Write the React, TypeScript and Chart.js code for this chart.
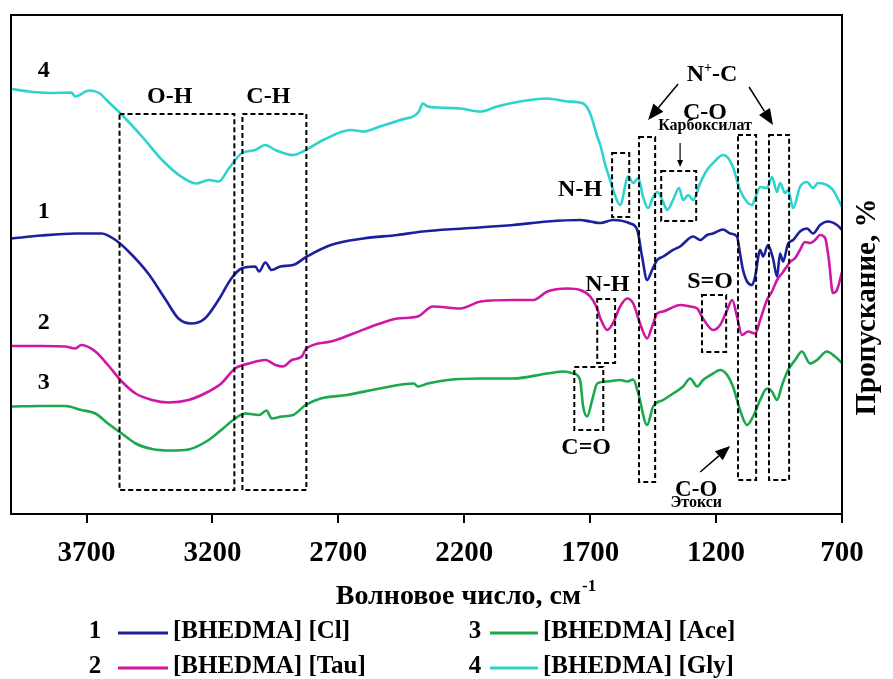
import React, { useEffect, useRef } from "react";
import { Chart, registerables } from "chart.js";

Chart.register(...registerables);

const SERIF = '"Liberation Serif", "Times New Roman", serif';
const bold = (s: number) => `bold ${s}px ${SERIF}`;

// ---- axis ticks ----
const xTicks = [3700, 3200, 2700, 2200, 1700, 1200, 700];

// ---- series 1: [BHEDMA][Cl] ----
const clWn = [3998, 3880, 3745, 3640, 3585, 3533, 3455, 3385, 3335, 3285, 3230, 3176, 3125, 3085, 3030, 3015, 2990, 2965, 2930, 2880, 2825, 2730, 2600, 2465, 2365, 2205, 2005, 1870, 1740, 1700, 1660, 1609, 1541, 1513, 1494, 1474, 1454, 1434, 1410, 1371, 1343, 1291, 1263, 1236, 1212, 1172, 1144, 1117, 1105, 1093, 1077, 1057, 1045, 1025, 1013, 994, 974, 958, 946, 934, 914, 894, 867, 839, 815, 787, 756, 720, 700];
const clT = [55.1, 55.7, 56.1, 56.1, 54.8, 52.5, 48.1, 42.8, 39.1, 38.1, 39.1, 42.8, 47.1, 49.1, 49.5, 48.5, 50.3, 48.8, 49.5, 49.8, 51.5, 53.8, 55.1, 55.8, 56.5, 57.1, 57.8, 58.5, 58.8, 58.5, 58.2, 58.8, 58.1, 56.8, 51.5, 46.8, 48.8, 50.8, 51.5, 52.8, 53.5, 55.5, 54.8, 55.8, 56.1, 56.9, 56.1, 55.5, 52.1, 48.8, 46.5, 45.8, 47.5, 52.8, 51.5, 53.8, 51.1, 47.5, 52.1, 50.5, 54.1, 54.8, 56.5, 57.1, 56.1, 57.8, 58.5, 57.8, 56.8];

// ---- series 2: [BHEDMA][Tau] ----
const tauWn = [3998, 3880, 3785, 3745, 3720, 3665, 3615, 3560, 3505, 3440, 3375, 3295, 3215, 3165, 3110, 3055, 2990, 2950, 2920, 2885, 2845, 2827, 2730, 2640, 2535, 2465, 2385, 2325, 2215, 2135, 2005, 1925, 1870, 1790, 1740, 1700, 1672, 1660, 1632, 1609, 1581, 1553, 1529, 1502, 1474, 1454, 1434, 1410, 1382, 1343, 1303, 1275, 1252, 1212, 1184, 1156, 1136, 1117, 1097, 1073, 1045, 1025, 998, 978, 958, 934, 906, 886, 867, 847, 827, 807, 787, 767, 752, 736, 720, 700];
const tauT = [33.6, 33.6, 33.5, 33.1, 33.8, 32.5, 29.8, 26.5, 24.1, 22.8, 22.3, 22.8, 24.5, 26.1, 29.1, 30.1, 30.8, 29.8, 29.5, 30.8, 31.5, 33.1, 34.5, 36.1, 38.1, 39.1, 39.5, 41.5, 41.1, 42.5, 42.8, 42.8, 44.5, 45.1, 44.8, 43.5, 41.1, 39.2, 36.8, 38.2, 41.5, 43.1, 42.1, 38.1, 35.1, 37.5, 40.1, 40.5, 41.1, 41.8, 41.5, 41.1, 39.1, 36.8, 37.8, 40.8, 42.8, 39.5, 35.8, 36.5, 36.1, 38.8, 42.8, 44.5, 46.8, 48.4, 50.4, 51.2, 52.8, 54.4, 54.2, 54.8, 55.8, 55.2, 50.8, 44.2, 44.8, 48.4];

// ---- series 3: [BHEDMA][Ace] ----
const aceWn = [3998, 3880, 3785, 3720, 3665, 3615, 3560, 3505, 3440, 3365, 3295, 3215, 3165, 3110, 3070, 3015, 2985, 2965, 2925, 2880, 2830, 2770, 2665, 2535, 2400, 2385, 2345, 2265, 2135, 2005, 1870, 1805, 1767, 1740, 1728, 1712, 1692, 1672, 1632, 1581, 1553, 1529, 1509, 1474, 1450, 1410, 1371, 1331, 1303, 1275, 1252, 1212, 1184, 1156, 1133, 1105, 1077, 1053, 1025, 998, 978, 958, 938, 914, 886, 859, 827, 799, 760, 728, 700];
const aceT = [21.5, 21.6, 21.6, 20.8, 20.1, 18.1, 16.1, 14.1, 13.0, 12.7, 12.9, 14.8, 16.8, 19.1, 20.1, 19.8, 20.7, 19.1, 19.5, 19.8, 21.8, 23.1, 23.8, 25.1, 26.1, 25.5, 26.1, 26.8, 27.1, 27.1, 28.1, 28.5, 28.1, 26.8, 21.5, 19.5, 22.8, 26.1, 26.5, 26.8, 26.5, 26.9, 24.1, 17.8, 21.5, 22.8, 24.1, 25.5, 27.1, 25.5, 26.8, 28.1, 28.8, 27.8, 25.5, 20.8, 17.8, 19.5, 22.8, 25.1, 24.5, 22.8, 25.8, 28.8, 30.8, 32.5, 30.1, 30.8, 32.5, 31.5, 30.2];

// ---- series 4: [BHEDMA][Gly] ----
const glyWn = [3998, 3930, 3850, 3760, 3745, 3690, 3650, 3615, 3565, 3480, 3400, 3325, 3265, 3215, 3175, 3135, 3085, 3030, 2990, 2950, 2880, 2830, 2760, 2650, 2600, 2535, 2455, 2380, 2365, 2345, 2305, 2215, 2135, 2070, 1980, 1870, 1790, 1728, 1700, 1672, 1660, 1640, 1621, 1609, 1581, 1549, 1529, 1509, 1490, 1470, 1450, 1434, 1410, 1394, 1371, 1347, 1331, 1311, 1291, 1263, 1236, 1212, 1172, 1152, 1133, 1105, 1077, 1057, 1045, 1025, 998, 978, 958, 946, 926, 914, 894, 867, 839, 815, 795, 760, 736, 700];
const glyT = [85.0, 84.5, 84.2, 84.3, 83.5, 84.7, 84.2, 82.5, 80.1, 75.5, 70.8, 67.5, 66.1, 66.8, 66.5, 69.1, 72.1, 72.8, 73.8, 72.8, 71.8, 72.8, 74.8, 76.8, 76.5, 77.5, 78.8, 80.5, 82.1, 81.5, 81.3, 81.1, 80.5, 81.5, 82.5, 83.1, 82.5, 82.1, 80.1, 75.5, 73.8, 69.8, 66.8, 64.8, 61.8, 67.5, 66.2, 67.2, 63.4, 61.2, 63.4, 64.4, 62.4, 60.8, 62.8, 65.2, 62.8, 63.8, 62.8, 66.2, 68.8, 70.2, 71.8, 71.2, 69.4, 64.8, 62.4, 61.8, 63.2, 65.4, 65.2, 67.4, 64.4, 66.2, 64.2, 64.8, 61.2, 65.4, 66.4, 65.2, 66.2, 65.8, 64.8, 61.4];

const seriesNames = ["[BHEDMA] [Cl]", "[BHEDMA] [Tau]", "[BHEDMA] [Ace]", "[BHEDMA] [Gly]"];
const seriesNums = ["1", "2", "3", "4"];
const seriesColors = ["#1c209c", "#cf16a4", "#1aa94c", "#2ed3ce"];
const seriesWn = [clWn, tauWn, aceWn, glyWn];
const seriesT = [clT, tauT, aceT, glyT];

// curve number labels (wavenumber, transmittance)
const curveLabelWn = 3870;
const curveLabelT = [60.4, 38.2, 26.2, 88.6];

// dashed boxes in data units: [wnLeft, wnRight, tTop, tBottom]
const boxWnL = [3569, 3081, 1613, 1506, 1418, 1113, 990, 1672, 1256, 1763];
const boxWnR = [3113, 2827, 1545, 1442, 1279, 1041, 910, 1601, 1160, 1648];
const boxTTop = [80, 80, 72.2, 75.4, 68.6, 75.8, 75.8, 43, 43.8, 29.4];
const boxTBot = [4.8, 4.8, 59.4, 6.4, 58.6, 6.8, 6.8, 30.2, 32.4, 16.8];

// annotation texts
const noteText = ["O-H", "C-H", "C-O", "Карбоксилат", "N-H", "N-H", "S=O", "C=O", "C-O", "Этокси"];
const noteWn = [3370, 2978, 1244, 1244, 1740, 1632, 1224, 1716, 1279, 1279];
const noteT = [83.4, 83.4, 80.2, 77.6, 64.8, 45.8, 46.4, 13.2, 4.8, 2.2];
const noteSize = [24, 24, 24, 16, 24, 24, 24, 24, 23, 16];

// arrows: from (wn,T) to (wn,T), head length, head width
const arrFromWn = [1351, 1069, 1343, 1263];
const arrFromT = [86, 85.4, 74.2, 8.4];
const arrToWn = [1470, 974, 1343, 1144];
const arrToT = [78.8, 77.8, 69.4, 13.6];
const arrHead = [16, 16, 7, 15];
const arrHeadW = [13, 13, 6, 12];

const nPlusWn = 1216;
const nPlusT = 87.8;

function drawArrow(ctx: CanvasRenderingContext2D, x1: number, y1: number, x2: number, y2: number, head: number, hw: number, lw: number) {
  const a = Math.atan2(y2 - y1, x2 - x1);
  const bx = x2 - head * Math.cos(a);
  const by = y2 - head * Math.sin(a);
  ctx.lineWidth = lw;
  ctx.setLineDash([]);
  ctx.beginPath();
  ctx.moveTo(x1, y1);
  ctx.lineTo(bx, by);
  ctx.stroke();
  ctx.beginPath();
  ctx.moveTo(x2, y2);
  ctx.lineTo(bx + (hw / 2) * Math.sin(a), by - (hw / 2) * Math.cos(a));
  ctx.lineTo(bx - (hw / 2) * Math.sin(a), by + (hw / 2) * Math.cos(a));
  ctx.closePath();
  ctx.fill();
}

const decorPlugin = {
  id: "decor",
  afterDraw(chart: any) {
    const ctx: CanvasRenderingContext2D = chart.ctx;
    const xs = chart.scales.x;
    const ys = chart.scales.y;
    const X = (v: number) => xs.getPixelForValue(v);
    const Y = (v: number) => ys.getPixelForValue(v);
    const ca = chart.chartArea;
    ctx.save();
    ctx.strokeStyle = "#000";
    ctx.fillStyle = "#000";

    // frame
    ctx.lineWidth = 2;
    ctx.setLineDash([]);
    ctx.strokeRect(ca.left, ca.top, ca.right - ca.left, ca.bottom - ca.top);

    // dashed boxes
    ctx.lineWidth = 2;
    ctx.setLineDash([5, 3]);
    for (let i = 0; i < boxWnL.length; i++) {
      const x1 = X(boxWnL[i]);
      const x2 = X(boxWnR[i]);
      const y1 = Y(boxTTop[i]);
      const y2 = Y(boxTBot[i]);
      ctx.strokeRect(x1, y1, x2 - x1, y2 - y1);
    }
    ctx.setLineDash([]);

    // notes
    ctx.textAlign = "center";
    ctx.textBaseline = "middle";
    for (let i = 0; i < noteText.length; i++) {
      ctx.font = bold(noteSize[i]);
      ctx.fillText(noteText[i], X(noteWn[i]), Y(noteT[i]));
    }

    // N+-C
    {
      const cx = X(nPlusWn);
      const cy = Y(nPlusT);
      ctx.font = bold(24);
      const wN = ctx.measureText("N").width;
      const wC = ctx.measureText("-C").width;
      ctx.font = bold(14);
      const wP = ctx.measureText("+").width;
      const total = wN + wP + wC;
      const x0 = cx - total / 2;
      ctx.textAlign = "left";
      ctx.font = bold(24);
      ctx.fillText("N", x0, cy);
      ctx.font = bold(14);
      ctx.fillText("+", x0 + wN, cy - 7);
      ctx.font = bold(24);
      ctx.fillText("-C", x0 + wN + wP, cy);
    }

    // arrows
    for (let i = 0; i < arrFromWn.length; i++) {
      drawArrow(ctx, X(arrFromWn[i]), Y(arrFromT[i]), X(arrToWn[i]), Y(arrToT[i]), arrHead[i], arrHeadW[i], i === 2 ? 1.2 : 1.5);
    }

    // curve numbers
    ctx.textAlign = "center";
    ctx.font = bold(24);
    for (let i = 0; i < curveLabelT.length; i++) {
      ctx.fillText(seriesNums[i], X(curveLabelWn), Y(curveLabelT[i]));
    }

    // x axis title
    {
      const cx = (ca.left + ca.right) / 2 + 39;
      const cy = 597;
      ctx.font = bold(28);
      const main = "Волновое число, см";
      const wm = ctx.measureText(main).width;
      ctx.font = bold(17);
      const ws = ctx.measureText("-1").width;
      const x0 = cx - (wm + ws) / 2;
      ctx.textAlign = "left";
      ctx.font = bold(28);
      ctx.fillText(main, x0, cy);
      ctx.font = bold(17);
      ctx.fillText("-1", x0 + wm + 1, cy - 10);
    }

    // y axis title (right side, reading upward)
    ctx.save();
    ctx.translate(868, 307);
    ctx.rotate(-Math.PI / 2);
    ctx.textAlign = "center";
    ctx.textBaseline = "middle";
    ctx.font = bold(29);
    ctx.fillText("Пропускание, %", 0, 0);
    ctx.restore();

    // legend
    const colNumX = [95, 95, 475, 475];
    const colLineX1 = [118, 118, 490, 490];
    const colLineX2 = [168, 168, 538, 538];
    const colTextX = [173, 173, 543, 543];
    const rowY = [632, 667, 632, 667];
    for (let i = 0; i < 4; i++) {
      ctx.textBaseline = "middle";
      ctx.textAlign = "center";
      ctx.font = bold(25);
      ctx.fillStyle = "#000";
      ctx.fillText(seriesNums[i], colNumX[i], rowY[i]);
      ctx.strokeStyle = seriesColors[i];
      ctx.lineWidth = 3;
      ctx.beginPath();
      ctx.moveTo(colLineX1[i], rowY[i] + 1);
      ctx.lineTo(colLineX2[i], rowY[i] + 1);
      ctx.stroke();
      ctx.textAlign = "left";
      ctx.fillText(seriesNames[i], colTextX[i], rowY[i]);
    }
    ctx.restore();
  },
};

export default function App() {
  const ref = useRef<HTMLCanvasElement | null>(null);
  useEffect(() => {
    if (!ref.current) return;
    const datasets = seriesNames.map((name, i) => ({
      label: name,
      data: seriesWn[i].map((w, j) => ({ x: w, y: seriesT[i][j] })),
      borderColor: seriesColors[i],
      backgroundColor: seriesColors[i],
      borderWidth: 2.6,
      pointRadius: 0,
      cubicInterpolationMode: "monotone" as const,
      fill: false,
    }));
    const chart = new Chart(ref.current, {
      type: "line",
      data: { datasets },
      plugins: [decorPlugin],
      options: {
        responsive: false,
        animation: false,
        devicePixelRatio: 1,
        layout: { padding: { left: 11, right: 51, top: 15, bottom: 0 } },
        plugins: { legend: { display: false }, tooltip: { enabled: false } },
        scales: {
          x: {
            type: "linear",
            min: 700,
            max: 4000,
            reverse: true,
            afterBuildTicks: (scale: any) => {
              scale.ticks = xTicks.map((v) => ({ value: v }));
            },
            afterFit: (scale: any) => {
              scale.height = 165;
            },
            grid: { drawOnChartArea: false, drawTicks: true, tickLength: 9, color: "#000", lineWidth: 2 },
            border: { display: true, color: "#000", width: 2 },
            ticks: {
              autoSkip: false,
              maxRotation: 0,
              padding: 13,
              color: "#000",
              font: { family: SERIF, size: 29, weight: "bold" },
              callback: (v: any) => String(v),
            },
          },
          y: { type: "linear", min: 0, max: 99.8, display: false },
        },
      },
    });
    return () => chart.destroy();
  }, []);
  return (
    <div style={{ position: "fixed", left: 0, top: 0, width: 893, height: 679, background: "#fff" }}>
      <canvas ref={ref} width={893} height={679} style={{ width: 893, height: 679, display: "block" }} />
    </div>
  );
}
